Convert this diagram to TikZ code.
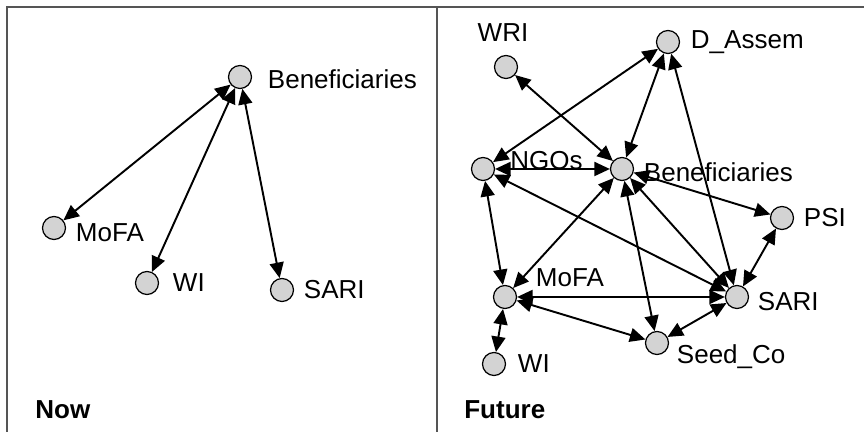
\documentclass[tikz,border=0pt]{standalone}
\usepackage{fontspec}
\setmainfont{Liberation Sans}
\usetikzlibrary{positioning,arrows.meta}
\definecolor{actorgray}{RGB}{211,211,211}
\definecolor{framegray}{RGB}{85,85,85}

\begin{document}
\begin{tikzpicture}[font=\fontsize{14.8}{17}\selectfont]
    \tikzset{
        actor/.style = {circle, draw=black, line width=0.7pt, fill=actorgray, minimum size=0.46cm, inner sep=0pt},
        tag/.style = {inner sep=0pt},
        link/.style = {line width=1.1pt, <->, >={Triangle[length=0.31cm, width=0.28cm]}},
        frame/.style = {line width=1.3pt, draw=framegray}
    }
    \useasboundingbox (0,0) rectangle (17.28,8.64);
    \draw [frame] (0.14,0) -- (0.14,8.5) -- (17.28,8.5);
    \draw [frame] (8.74,0) -- (8.74,8.5);

    % Now
    \node (benNow) [actor] at (4.80,7.10) {};
    \node (mofaNow) [actor] at (1.08,4.08) {};
    \node (wiNow) [actor] at (2.94,2.98) {};
    \node (sariNow) [actor] at (5.64,2.84) {};
    \node (benNowLabel) [tag, right=0.31cm of benNow, yshift=-0.04cm] {Beneficiaries};
    \node (mofaNowLabel) [tag, right=0.19cm of mofaNow, yshift=-0.1cm] {MoFA};
    \node (wiNowLabel) [tag, right=0.27cm of wiNow] {WI};
    \node (sariNowLabel) [tag, right=0.19cm of sariNow] {SARI};
    \node (now) [anchor=west, inner sep=0pt] at (0.70,0.44) {\bfseries Now};

    \draw [link] (benNow) -- (mofaNow);
    \draw [link] (benNow) -- (wiNow);
    \draw [link] (benNow) -- (sariNow);

    % Future
    \node (wriFut) [actor] at (10.12,7.30) {};
    \node (dassFut) [actor] at (13.36,7.80) {};
    \node (ngoFut) [actor] at (9.66,5.26) {};
    \node (benFut) [actor] at (12.44,5.26) {};
    \node (psiFut) [actor] at (15.64,4.28) {};
    \node (mofaFut) [actor] at (10.10,2.70) {};
    \node (sariFut) [actor] at (14.74,2.70) {};
    \node (seedFut) [actor] at (13.14,1.78) {};
    \node (wiFut) [actor] at (9.88,1.36) {};
    \node (wriFutLabel) [tag, above=0.26cm of wriFut, xshift=-0.06cm] {WRI};
    \node (dassFutLabel) [tag, right=0.21cm of dassFut] {D\_Assem};
    \node (ngoFutLabel) [tag, right=0.3cm of ngoFut, yshift=0.16cm] {NGOs};
    \node (benFutLabel) [tag, right=0.19cm of benFut, yshift=-0.06cm] {Beneficiaries};
    \node (psiFutLabel) [tag, right=0.19cm of psiFut] {PSI};
    \node (mofaFutLabel) [tag, right=0.37cm of mofaFut, yshift=0.38cm] {MoFA};
    \node (sariFutLabel) [tag, right=0.17cm of sariFut, yshift=-0.1cm] {SARI};
    \node (seedFutLabel) [tag, right=0.15cm of seedFut, yshift=-0.28cm] {Seed\_Co};
    \node (wiFutLabel) [tag, right=0.23cm of wiFut] {WI};
    \node (future) [anchor=west, inner sep=0pt] at (9.28,0.44) {\bfseries Future};

    \draw [link] (wriFut) -- (benFut);
    \draw [link] (dassFut) -- (ngoFut);
    \draw [link] (dassFut) -- (benFut);
    \draw [link] (dassFut) -- (sariFut);
    \draw [link] (ngoFut) -- (benFut);
    \draw [link] (ngoFut) -- (mofaFut);
    \draw [link] (ngoFut) -- (sariFut);
    \draw [link] (benFut) -- (mofaFut);
    \draw [link] (benFut) -- (seedFut);
    \draw [link] (benFut) -- (sariFut);
    \draw [link] (benFut) -- (psiFut);
    \draw [link] (psiFut) -- (sariFut);
    \draw [link] (mofaFut) -- (sariFut);
    \draw [link] (mofaFut) -- (seedFut);
    \draw [link] (mofaFut) -- (wiFut);
    \draw [link] (seedFut) -- (sariFut);
\end{tikzpicture}
\end{document}
